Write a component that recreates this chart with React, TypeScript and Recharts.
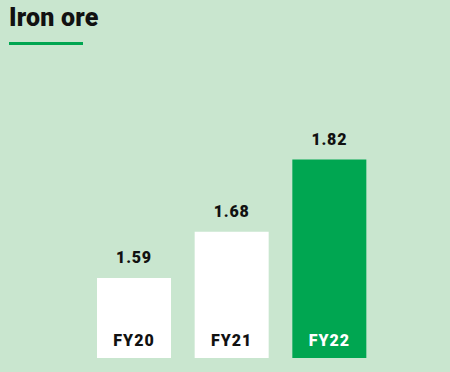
import React from "react";
import { BarChart, Bar, XAxis, YAxis, Cell, LabelList } from "recharts";

const categories = ["FY20", "FY21", "FY22"];
const values = [1.59, 1.68, 1.82];
const barColors = ["#ffffff", "#ffffff", "#00a651"];
const nameColors = ["#111111", "#111111", "#ffffff"];
const title = "Iron ore";

const data = categories.map((c, i) => ({ name: c, value: values[i] }));

const FONT = "Roboto, 'Liberation Sans', sans-serif";

const NameLabel = (props: any) => {
  const { x, y, width, height, index } = props;
  return (
    <text
      x={x + width / 2}
      y={y + height - 12}
      textAnchor="middle"
      fontFamily={FONT}
      fontWeight={900}
      fontSize={16}
      letterSpacing={1}
      fill={nameColors[index]}
    >
      {categories[index]}
    </text>
  );
};

const ValueLabel = (props: any) => {
  const { x, y, width, index } = props;
  return (
    <text
      x={x + width / 2}
      y={y - 15}
      textAnchor="middle"
      fontFamily={FONT}
      fontWeight={900}
      fontSize={16}
      letterSpacing={0.8}
      fill="#111111"
    >
      {values[index].toFixed(2)}
    </text>
  );
};

export default function App() {
  return (
    <div style={{ position: "relative", width: 450, height: 372, background: "#c9e6cf", overflow: "hidden" }}>
      <style>{`body{margin:0}`}</style>
      <div
        style={{
          position: "absolute",
          left: 9,
          top: 3,
          fontFamily: FONT,
          fontWeight: 900,
          fontSize: 25,
          color: "#111111",
          letterSpacing: 0.2,
        }}
      >
        {title}
      </div>
      <div style={{ position: "absolute", left: 9, top: 42, width: 74, height: 3, background: "#00a651" }} />
      <BarChart
        width={450}
        height={372}
        data={data}
        margin={{ top: 140, right: 34, bottom: 14, left: 33 }}
        barSize={74}
      >
        <XAxis
          dataKey="name"
          height={0}
          tick={false}
          tickLine={false}
          axisLine={{ stroke: "#a3d5b0", strokeWidth: 2 }}
          padding={{ left: 52, right: 38 }}
        />
        <YAxis hide domain={[1.435, 1.858]} allowDataOverflow />
        <Bar dataKey="value" isAnimationActive={false}>
          {data.map((d, i) => (
            <Cell key={d.name} fill={barColors[i]} />
          ))}
          <LabelList dataKey="value" content={ValueLabel} />
          <LabelList dataKey="name" content={NameLabel} />
        </Bar>
      </BarChart>
    </div>
  );
}
